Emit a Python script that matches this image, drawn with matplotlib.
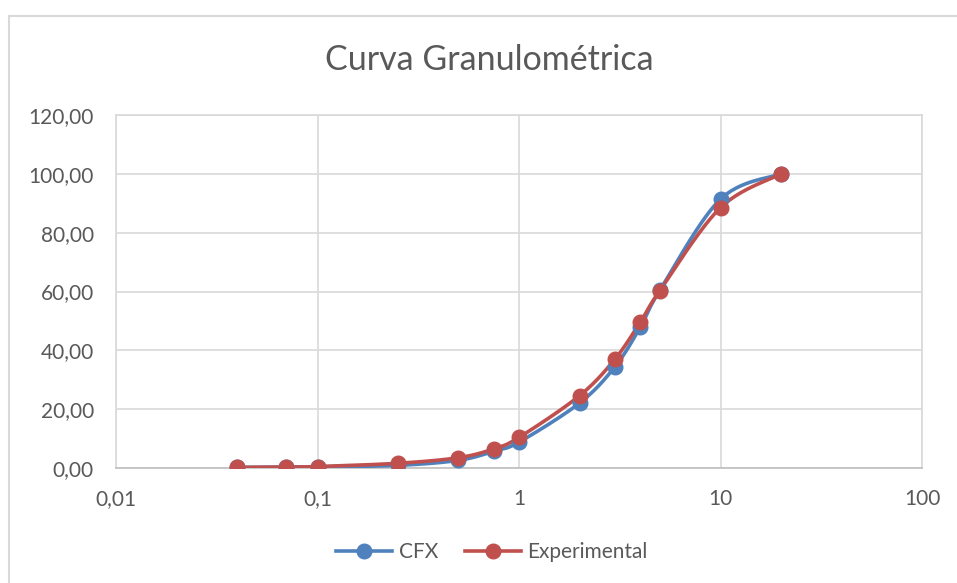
import numpy as np
import matplotlib
matplotlib.use("Agg")
import matplotlib.pyplot as plt
from matplotlib.patches import Rectangle
from matplotlib.ticker import FixedLocator, FuncFormatter, NullLocator

plt.rcParams['font.family'] = ['Lato', 'DejaVu Sans']

# Sieve openings (mm) and cumulative % passing
diameters = [0.04, 0.07, 0.1, 0.25, 0.5, 0.75, 1, 2, 3, 4, 5, 10, 20]
cfx = [0.2, 0.3, 0.4, 0.9, 2.6, 5.7, 8.8, 22.1, 34.5, 47.9, 60.4, 91.4, 100.0]
experimental = [0.2, 0.3, 0.5, 1.6, 3.5, 6.5, 10.4, 24.6, 37.1, 49.6, 60.3, 88.5, 100.0]

x_ticks = [0.01, 0.1, 1, 10, 100]
x_tick_labels = ["0,01", "0,1", "1", "10", "100"]
y_ticks = [0, 20, 40, 60, 80, 100, 120]

BLUE = "#4f81bd"
RED = "#c0504d"
TEXT = "#595959"
GRID = "#d9d9d9"


def smooth(xs, ys, n=30, tension=0.5):
    """Cardinal spline through the points, computed in log10(x) space."""
    lx = np.log10(np.asarray(xs, float))
    y = np.asarray(ys, float)
    px = np.concatenate([[lx[0]], lx, [lx[-1]]])
    py = np.concatenate([[y[0]], y, [y[-1]]])
    out_x, out_y = [], []
    t = np.linspace(0, 1, n, endpoint=False)
    for i in range(1, len(px) - 2):
        p0, p1, p2, p3 = (np.array([px[j], py[j]]) for j in (i - 1, i, i + 1, i + 2))
        m1 = tension * (p2 - p0)
        m2 = tension * (p3 - p1)
        h00 = 2 * t**3 - 3 * t**2 + 1
        h10 = t**3 - 2 * t**2 + t
        h01 = -2 * t**3 + 3 * t**2
        h11 = t**3 - t**2
        seg = (np.outer(h00, p1) + np.outer(h10, m1) + np.outer(h01, p2) + np.outer(h11, m2))
        out_x.extend(seg[:, 0])
        out_y.extend(seg[:, 1])
    out_x.append(lx[-1])
    out_y.append(y[-1])
    return 10 ** np.array(out_x), np.array(out_y)


fig = plt.figure(figsize=(9.57, 5.83), dpi=100)
fig.patch.set_facecolor("white")

# chart-area border
fig.add_artist(Rectangle((9 / 957, -0.05), 1.2, 1 - 16 / 583 + 0.05,
                         transform=fig.transFigure, fill=False,
                         edgecolor=GRID, linewidth=1.5))

ax = fig.add_axes([116 / 957, 1 - 468 / 583, (922 - 116) / 957, (468 - 115) / 583])
ax.set_xscale("log")
ax.set_xlim(0.01, 100)
ax.set_ylim(0, 120)

ax.xaxis.set_major_locator(FixedLocator(x_ticks))
ax.xaxis.set_minor_locator(NullLocator())
ax.set_xticklabels(x_tick_labels)
ax.yaxis.set_major_locator(FixedLocator(y_ticks))
ax.yaxis.set_major_formatter(FuncFormatter(lambda v, p: f"{v:.2f}".replace(".", ",")))

ax.grid(True, color=GRID, linewidth=1.2)
ax.set_axisbelow(True)
for side in ("left", "right", "top"):
    ax.spines[side].set_color(GRID)
    ax.spines[side].set_linewidth(1.2)
ax.spines["bottom"].set_color("#bfbfbf")
ax.spines["bottom"].set_linewidth(1.2)
ax.tick_params(length=0, labelsize=15, labelcolor=TEXT)
ax.tick_params(axis="y", pad=16)
ax.tick_params(axis="x", pad=15)

for ys, color, label in ((cfx, BLUE, "CFX"), (experimental, RED, "Experimental")):
    sx, sy = smooth(diameters, ys)
    ax.plot(sx, sy, color=color, linewidth=2.6, solid_capstyle="round", zorder=3)
    ax.plot(diameters, ys, linestyle="none", marker="o", markersize=10.5,
            color=color, zorder=4)
    ax.plot([], [], color=color, linewidth=2.6, marker="o", markersize=10.5, label=label)

fig.text(489 / 957, 1 - 60 / 583, "Curva Granulométrica", ha="center", va="center",
         fontsize=24.5, color=TEXT)

leg = fig.legend(loc="center", bbox_to_anchor=(492 / 957, 1 - 552 / 583), ncol=2,
                 frameon=False, fontsize=15, handlelength=2.7, handletextpad=0.3,
                 columnspacing=1.3, labelcolor=TEXT)

fig.savefig("out.png", dpi=100, facecolor="white")
